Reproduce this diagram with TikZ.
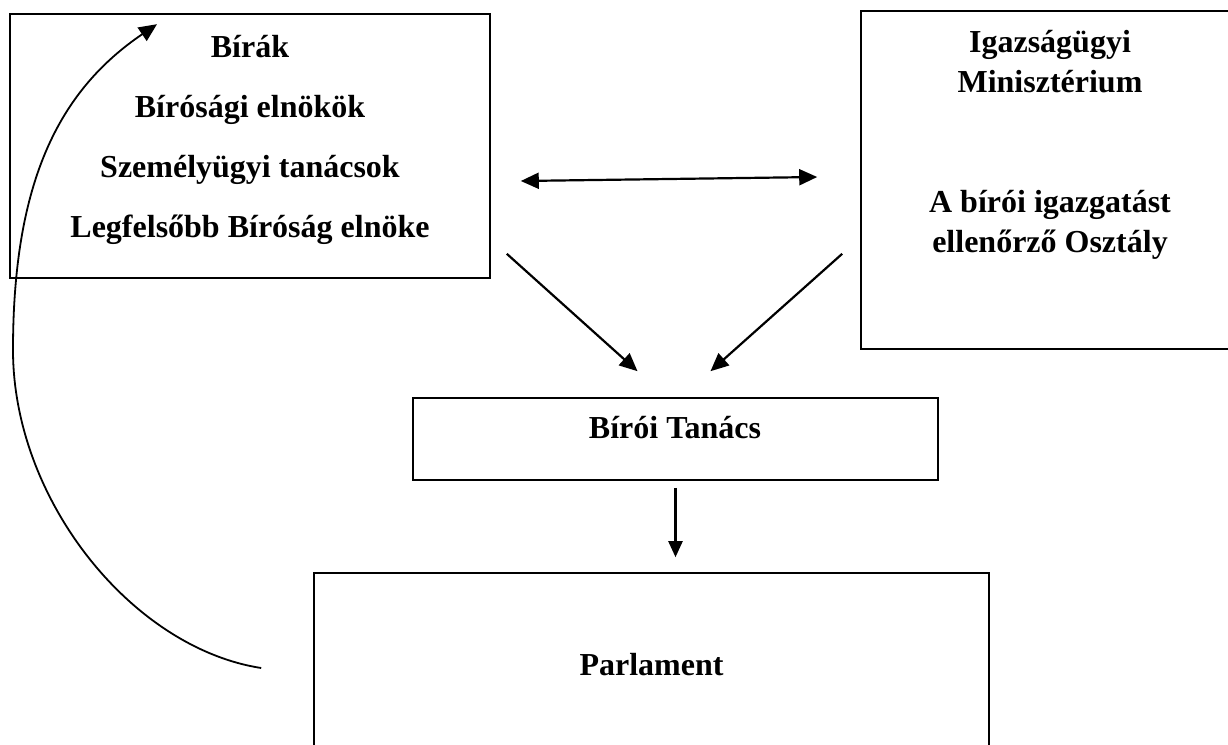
\documentclass[tikz,border=0pt]{standalone}
\usepackage{fontspec}
\setmainfont{Liberation Serif}
\usetikzlibrary{arrows.meta,calc}

\begin{document}
\begin{tikzpicture}[x=0.5pt,y=-0.5pt,
    >={Triangle[length=9pt,width=8pt]},
    box/.style={draw, line width=0.8pt, inner sep=0pt},
    txt/.style={font=\fontsize{16}{20}\selectfont\bfseries, align=center, inner sep=0pt},
    arr/.style={->, line width=1.1pt}]
  \useasboundingbox (0,0) rectangle (1228,745);
  % boxes
  \node[box, minimum width=240pt, minimum height=132pt] (birak) at (250,146) {};
  \node[box, minimum width=189pt, minimum height=169pt] (ministry) at (1050,180) {};
  \node[box, minimum width=262.5pt, minimum height=41pt] (tanacs) at (675.5,439) {};
  \node[box, minimum width=337.5pt, minimum height=92pt] (parl) at (651.5,665) {};
  % texts
  \node[txt] (birakt) at (250,140) {Bírák\\[10pt]Bírósági elnökök\\[10pt]Személyügyi tanácsok\\[10pt]Legfelsőbb Bíróság elnöke};
  \node[txt] (ministryt) at (1050,62) {Igazságügyi\\Minisztérium};
  \node[txt] (osztaly) at (1050,225) {A bírói igazgatást\\ellenőrző Osztály};
  \node[txt] (tanacst) at (675,428) {Bírói Tanács};
  \node[txt] (parlt) at (651.5,665) {Parlament};
  % arrows
  \draw[arr, <->] ($(birak.east)+(30,35)$) -- ($(ministry.west)+(-43,-3)$);
  \draw[arr] ($(birak.south east)+(16,-25)$) -- ($(tanacs.north)+(-38,-26)$);
  \draw[arr] ($(ministry.south west)+(-18,-96)$) -- ($(tanacs.north)+(35,-26)$);
  \draw[arr, >={Triangle[length=8pt,width=7pt]}] ($(tanacs.south)+(0,7)$) -- ($(tanacs.south |- parl.north)+(0,-15)$);
  \coordinate (bend) at (13,350);
  \draw[->, line width=0.9pt] ($(parl.west)+(-52,3)$) .. controls (132,648) and (13,500) .. (bend)
    .. controls (13,180) and (60,90) .. ($(birak.north)+(-93,11)$);
\end{tikzpicture}
\end{document}
